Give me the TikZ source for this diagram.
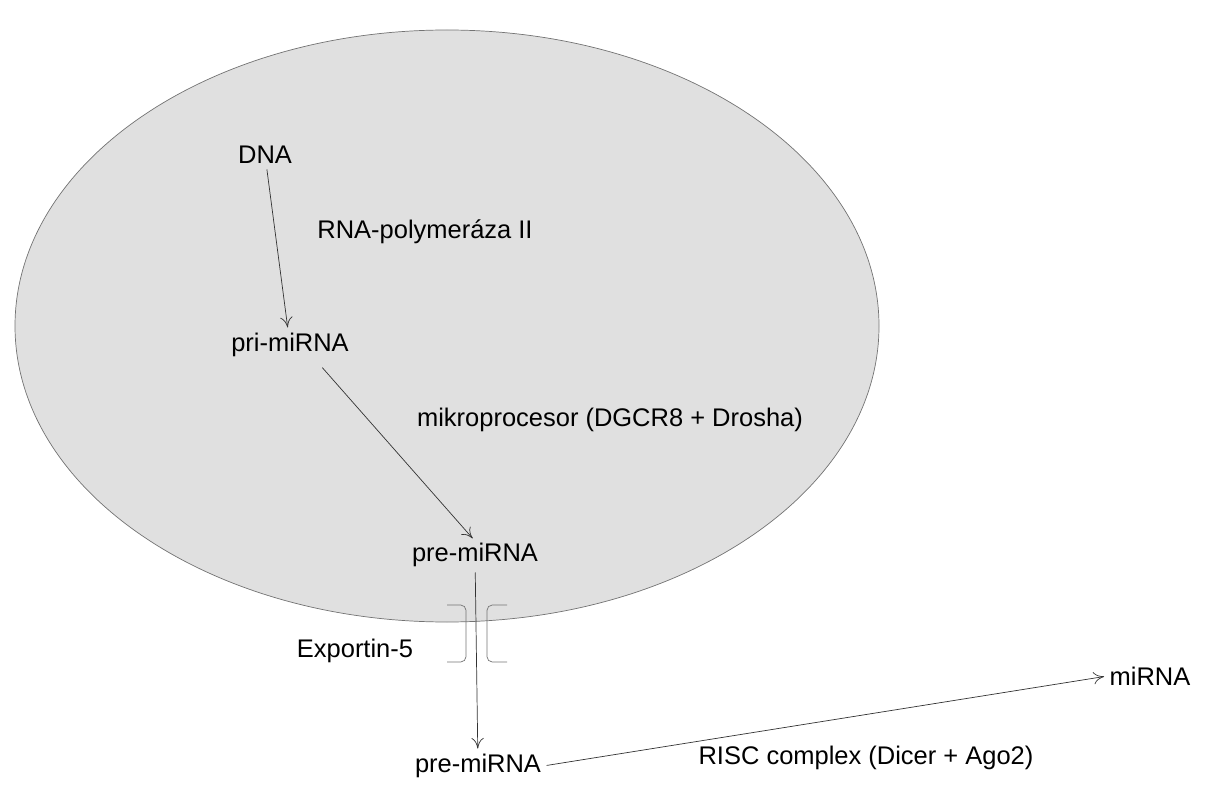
\documentclass[tikz,border=0pt]{standalone}
\usepackage{fontspec}
\setmainfont{Liberation Sans}
\usetikzlibrary{arrows.meta}
\tikzset{
    %Define standard arrow tip
    >={To[length=6pt,width=7pt]},
    %Define style for labels
    txt/.style={
           inner sep=1pt,
           font=\fontsize{14.5}{17}\selectfont},
    % Define arrow style
    pil/.style={
           ->,
           draw=black!80,
           shorten <=2pt,
           shorten >=2pt,},
    % Define bracket style
    brk/.style={
           draw=black!55,
           rounded corners=3pt}
}
\begin{document}
\begin{tikzpicture}[x=0.02cm, y=-0.02cm]
        \useasboundingbox (0,0) rectangle (1213,800);
        %nucleus
        \draw[fill=black!12, draw=black!55] (447,326) ellipse [x radius=432, y radius=296];

        % DNA node
        \node[txt] (dna) at (265,155) {DNA};
        % pri-miRNA node
        \node[txt] (pri) at (290,345) {pri-miRNA};
        % pre-miRNA node in nucleus
        \node[txt] (pre) at (475,555) {pre-miRNA};
        % pre-miRNA node in cytoplasm
        \node[txt] (pre2) at (478,766) {pre-miRNA};
        % miRNA node
        \node[txt] (mirna) at (1150,676) {miRNA};

        % enzyme labels
        \node[txt] (pol) at (425,232) {RNA-polymeráza II};
        \node[txt] (mikro) at (610,420) {mikroprocesor (DGCR8 + Drosha)};
        \node[txt] (exp) at (355,651) {Exportin-5};
        \node[txt] (risc) at (866,758) {RISC complex (Dicer + Ago2)};

        % exportin-5 pore
        \draw[brk] (447,605) -- (466,605) -- (466,662) -- (447,662);
        \draw[brk] (507,605) -- (487,605) -- (487,662) -- (507,662);

        % arrows
        \coordinate (p1) at (320,365);
        \draw[pil] (dna) -- (pri);
        \draw[pil] (p1) -- (pre.north);
        \draw[pil] (pre) -- (pre2);
        \draw[pil] (pre2.east) -- (mirna.west);
\end{tikzpicture}
\end{document}
